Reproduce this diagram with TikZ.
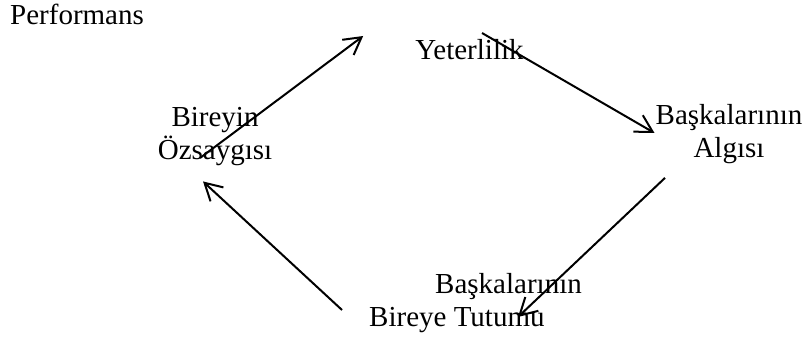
\documentclass[tikz,border=0pt]{standalone}
\usepackage{fontspec}
\setmainfont{Liberation Serif}
\usetikzlibrary{arrows.meta}
\tikzset{
  lbl/.style = {inner sep = 0pt, align = center,
    font = \fontsize{29}{33}\selectfont},
  arr/.style = {line width = 2pt,
    -{Straight Barb[length = 17pt, width = 19pt]}}
}

\begin{document}
\begin{tikzpicture}[x = 1pt, y = -1pt]
    \useasboundingbox (0,0) rectangle (803,342);
    \node[lbl, anchor = base west] (perf) at (10,25) {Performans};
    \node[lbl] (yet) at (469.5,49.5) {Yeterlilik};
    \node[lbl] (ozs) at (215,137) {Bireyin\\Özsaygısı};
    \node[lbl] (algi) at (729,134) {Başkalarının\\Algısı};
    \node[lbl, align = left] (tutum) at (475.5,303)
    {\hspace*{66pt}Başkalarının\\Bireye Tutumu};
    \draw[arr] ([shift = {(-15,21)}]ozs.center)
    -- ([shift = {(-52,-13.5)}]yet.west);
    \draw[arr] ([shift = {(12.5,-16.5)}]yet.center)
    -- ([shift = {(-1,-1)}]algi.west);
    \draw[arr] ([shift = {(-64,14)}]algi.south)
    -- ([shift = {(42.5,14)}]tutum.center);
    \draw[arr] ([shift = {(-27,7)}]tutum.west)
    -- ([shift = {(-12,15)}]ozs.south);
\end{tikzpicture}
\end{document}
